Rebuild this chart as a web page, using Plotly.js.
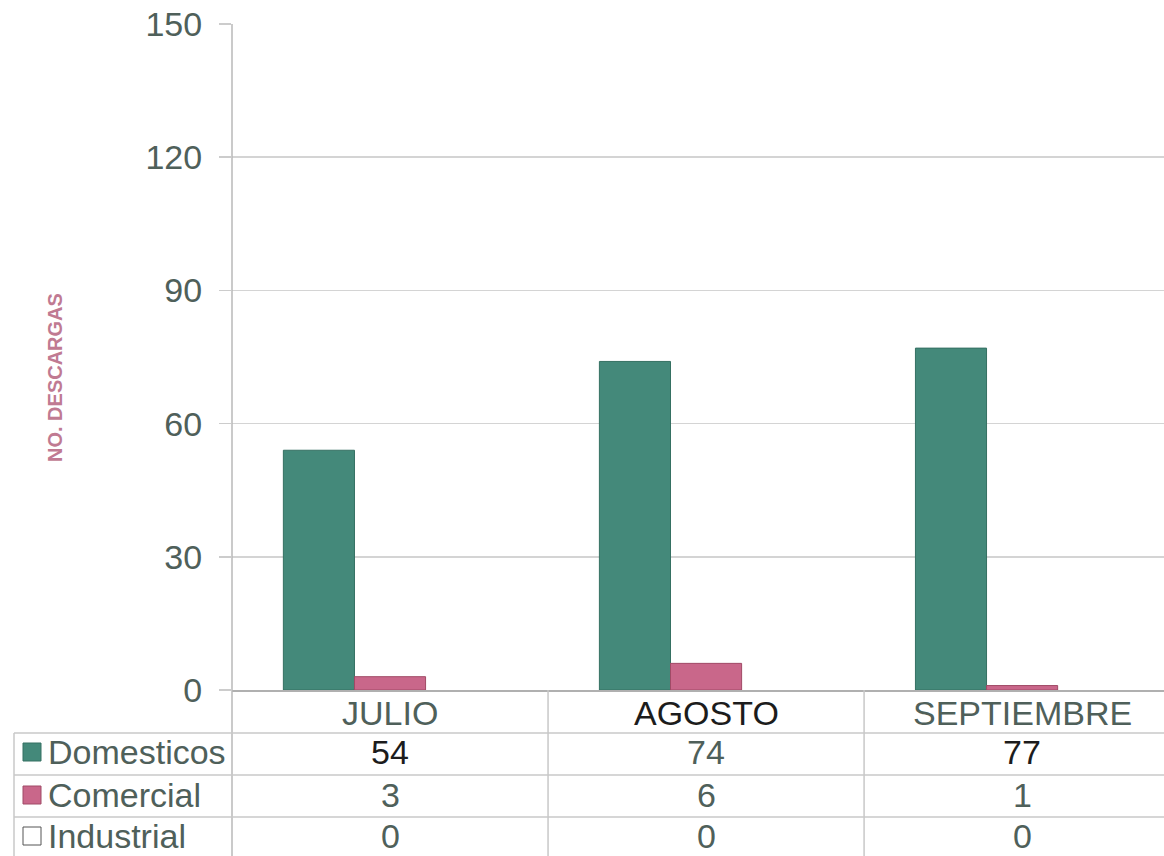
<!DOCTYPE html>
<html>
<head>
<meta charset="utf-8">
<script src="https://cdn.plot.ly/plotly-3.0.1.min.js"></script>
<style>html,body{margin:0;padding:0;background:#fff;overflow:hidden}</style>
</head>
<body>
<div id="chart" style="width:1164px;height:856px"></div>
<script>
const categories = ['JULIO', 'AGOSTO', 'SEPTIEMBRE'];
const seriesNames = ['Domesticos', 'Comercial', 'Industrial'];
const domesticos = [54, 74, 77];
const comercial = [3, 6, 1];
const industrial = [0, 0, 0];
const yTicks = [0, 30, 60, 90, 120, 150];
const yTitle = 'NO. DESCARGAS';

const W = 1164, H = 856;
const L = 232, T = 24, B = 166;
const PW = W - L, PH = H - T - B;
const px2p = px => (px - L) / PW;
const py2p = py => (H - B - py) / PH;

const colors = ['#44897a', '#c9678a', '#ffffff'];
const lineColors = ['#357062', '#a04a66', '#555555'];
const barLineWidths = [1, 1, 0];
const values = [domesticos, comercial, industrial];
const FONT = 'Arial, "Liberation Sans", sans-serif';
const GREY = '#4f605a';
const FS = 34;

const traces = seriesNames.map((n, i) => ({
  type: 'bar', name: n, x: categories, y: values[i],
  marker: {color: colors[i], line: {color: lineColors[i], width: barLineWidths[i]}},
  hoverinfo: 'skip'
}));

const headerColors = [GREY, '#1c1c1c', GREY];
const valueColors = [
  ['#1c1c1c', GREY, '#1c1c1c'],
  [GREY, GREY, GREY],
  [GREY, GREY, GREY]
];
const rowY = [752, 795, 836];
const annotations = [];
categories.forEach((c, j) => {
  annotations.push({xref: 'x', yref: 'paper', x: j, y: py2p(713), text: c, showarrow: false,
    font: {family: FONT, size: FS, color: headerColors[j]}, xanchor: 'center', yanchor: 'middle'});
});
seriesNames.forEach((n, i) => {
  annotations.push({xref: 'paper', yref: 'paper', x: px2p(46), y: py2p(rowY[i]), text: n, showarrow: false,
    font: {family: FONT, size: FS, color: GREY}, xanchor: 'left', yanchor: 'middle'});
  values[i].forEach((v, j) => {
    annotations.push({xref: 'x', yref: 'paper', x: j, y: py2p(rowY[i]), text: String(v), showarrow: false,
      font: {family: FONT, size: FS, color: valueColors[i][j]}, xanchor: 'center', yanchor: 'middle'});
  });
});
annotations.push({xref: 'paper', yref: 'paper', x: px2p(55), y: py2p(378), text: '<b>' + yTitle + '</b>', textangle: -90,
  showarrow: false, font: {family: FONT, size: 20, color: '#c07a92'}, xanchor: 'center', yanchor: 'middle'});

const LC = '#c8c8c8';
const shapes = [];
shapes.push({type: 'line', xref: 'paper', yref: 'paper', x0: 0, x1: 0, y0: 1, y1: py2p(856), line: {color: '#b8b8b8', width: 1.5}});
[733, 775, 817].forEach(py => shapes.push({type: 'line', xref: 'paper', yref: 'paper', x0: px2p(14), x1: 1, y0: py2p(py), y1: py2p(py), line: {color: LC, width: 1.5}}));
shapes.push({type: 'line', xref: 'paper', yref: 'paper', x0: px2p(14), x1: px2p(14), y0: py2p(733), y1: py2p(856), line: {color: LC, width: 1.5}});
[0.5, 1.5].forEach(x => shapes.push({type: 'line', xref: 'x', yref: 'paper', x0: x, x1: x, y0: 0, y1: py2p(856), line: {color: LC, width: 1.5}}));
seriesNames.forEach((n, i) => {
  const cy = rowY[i];
  shapes.push({type: 'rect', xref: 'paper', yref: 'paper', x0: px2p(23), x1: px2p(41), y0: py2p(cy - 9), y1: py2p(cy + 9),
    fillcolor: colors[i], line: {color: lineColors[i], width: 1}});
});

const layout = {
  width: W, height: H,
  margin: {l: L, r: 0, t: T, b: B, pad: 0},
  paper_bgcolor: '#fff', plot_bgcolor: '#fff',
  showlegend: false,
  barmode: 'group', bargap: 0.325, bargroupgap: 0,
  font: {family: FONT},
  xaxis: {range: [-0.5, 2.449], showticklabels: false, showgrid: false, zeroline: false,
    showline: true, linecolor: '#b0b0b0', linewidth: 1.5, ticks: '', fixedrange: true},
  yaxis: {range: [0, 150], tickvals: yTicks, ticktext: yTicks.map(String),
    tickfont: {family: FONT, size: FS, color: GREY}, ticks: 'outside', ticklen: 12, tickcolor: '#cccccc',
    tickwidth: 1.5, ticklabelstandoff: 10,
    showgrid: true, gridcolor: '#d4d4d4', gridwidth: 1.5, zeroline: false, showline: false, fixedrange: true},
  annotations: annotations,
  shapes: shapes
};

Plotly.newPlot('chart', traces, layout, {displayModeBar: false, staticPlot: true});
</script>
</body>
</html>
